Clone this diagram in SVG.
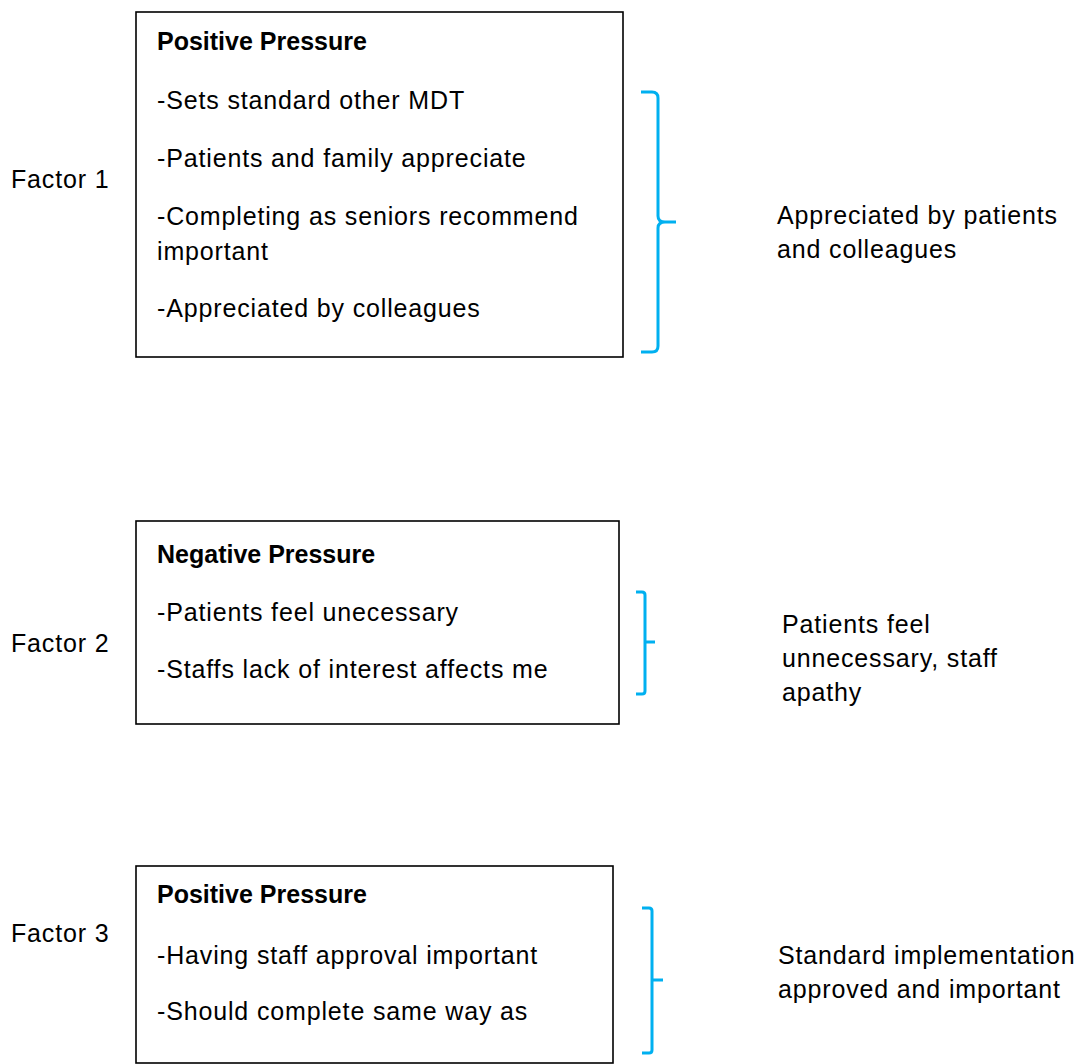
<svg xmlns="http://www.w3.org/2000/svg" width="1092" height="1064" viewBox="0 0 1092 1064">
  <style>
    .box { fill: #ffffff; stroke: #000000; stroke-width: 1.6; }
    .t { font-family: "Liberation Sans", Arial, sans-serif; font-size: 25px; fill: #000000; letter-spacing: 0.85px; }
    .h { font-weight: bold; letter-spacing: 0; }
    .brace { fill: none; stroke: #00b0f0; stroke-width: 3; stroke-linecap: butt; stroke-linejoin: miter; }
  </style>
  <rect width="1092" height="1064" fill="#ffffff"/>

  <!-- factor labels -->
  <g id="factor1-label"><text class="t" x="11" y="188">Factor 1</text></g>
  <g id="factor2-label"><text class="t" x="11" y="652">Factor 2</text></g>
  <g id="factor3-label"><text class="t" x="11" y="942">Factor 3</text></g>

  <!-- factor 1 box -->
  <g id="factor1-box">
    <rect class="box" x="136" y="12" width="487" height="345"/>
    <text class="t h" x="157" y="50">Positive Pressure</text>
    <text class="t" x="157" y="109">-Sets standard other MDT</text>
    <text class="t" x="157" y="167">-Patients and family appreciate</text>
    <text class="t" x="157" y="225">-Completing as seniors recommend</text>
    <text class="t" x="157" y="260">important</text>
    <text class="t" x="157" y="317">-Appreciated by colleagues</text>
  </g>

  <!-- factor 2 box -->
  <g id="factor2-box">
    <rect class="box" x="136" y="521" width="483" height="203"/>
    <text class="t h" x="157" y="563">Negative Pressure</text>
    <text class="t" x="157" y="621">-Patients feel unecessary</text>
    <text class="t" x="157" y="678">-Staffs lack of interest affects me</text>
  </g>

  <!-- factor 3 box -->
  <g id="factor3-box">
    <rect class="box" x="136" y="866" width="477" height="197"/>
    <text class="t h" x="157" y="903">Positive Pressure</text>
    <text class="t" x="157" y="964">-Having staff approval important</text>
    <text class="t" x="157" y="1020">-Should complete same way as</text>
  </g>

  <!-- summary labels -->
  <g id="summary1">
    <text class="t" x="777" y="224">Appreciated by patients</text>
    <text class="t" x="777" y="258">and colleagues</text>
  </g>
  <g id="summary2">
    <text class="t" x="782" y="633">Patients feel</text>
    <text class="t" x="782" y="667">unnecessary, staff</text>
    <text class="t" x="782" y="701">apathy</text>
  </g>
  <g id="summary3">
    <text class="t" x="778" y="964">Standard implementation</text>
    <text class="t" x="778" y="998">approved and important</text>
  </g>

  <!-- grouping braces -->
  <g id="connectors">
    <path class="brace" d="M641 92 L652 92 Q658 92 658 98 L658 216 Q658 222 665 222 L676 222 M665 222 Q658 222 658 228 L658 346 Q658 352 652 352 L641 352"/>
    <path class="brace" d="M636 592 L642 592 Q645 592 645 595 L645 642 L655 642 M645 642 L645 691 Q645 694 642 694 L636 694"/>
    <path class="brace" d="M642 908 L649 908 Q652 908 652 911 L652 980 L663 980 M652 980 L652 1050 Q652 1053 649 1053 L642 1053"/>
  </g>
</svg>
